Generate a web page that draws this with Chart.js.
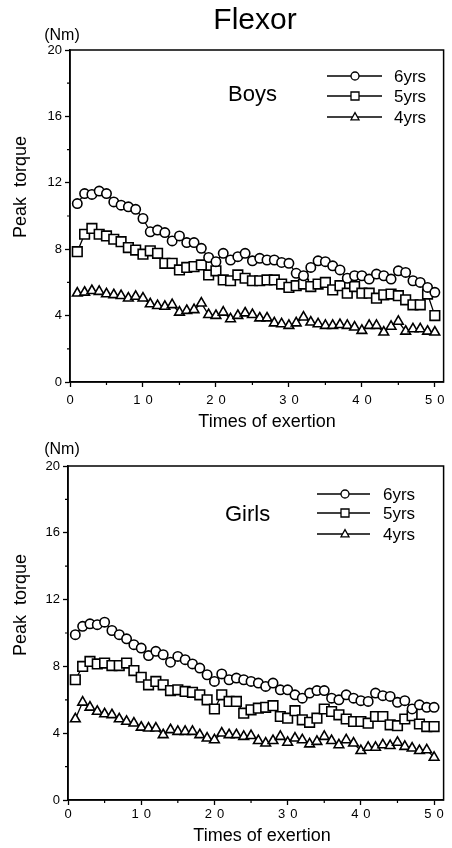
<!DOCTYPE html>
<html>
<head>
<meta charset="utf-8">
<script src="https://cdn.jsdelivr.net/npm/chart.js@4.4.1/dist/chart.umd.min.js"></script>
<style>
  body { margin: 0; background: #fff; }
  #wrap { position: relative; width: 452px; height: 848px; }
  canvas { position: absolute; left: 0; }
</style>
</head>
<body>
<div id="wrap">
  <canvas id="boysChart" width="452" height="430" style="top:0"></canvas>
  <canvas id="girlsChart" width="452" height="418" style="top:430px"></canvas>
</div>
<script>
'use strict';
// data
const times = [1,2,3,4,5,6,7,8,9,10,11,12,13,14,15,16,17,18,19,20,21,22,23,24,25,
  26,27,28,29,30,31,32,33,34,35,36,37,38,39,40,41,42,43,44,45,46,47,48,49,50];
const seriesLabels = ['6yrs', '5yrs', '4yrs'];

const boys6 = [10.75,11.35,11.3,11.5,11.35,10.85,10.65,10.55,10.4,9.85,
  9.05,9.15,9.0,8.5,8.8,8.4,8.4,8.05,7.5,7.25,
  7.75,7.35,7.55,7.75,7.3,7.45,7.35,7.35,7.2,7.15,
  6.55,6.4,6.9,7.3,7.25,7.0,6.75,6.25,6.4,6.4,
  6.2,6.5,6.4,6.2,6.7,6.6,6.1,6.0,5.7,5.4];
const boys5 = [7.85,8.9,9.25,8.9,8.8,8.6,8.45,8.1,7.95,7.7,
  7.9,7.75,7.15,7.15,6.75,6.9,6.95,7.05,6.45,6.7,
  6.15,6.1,6.45,6.25,6.1,6.1,6.15,6.15,5.9,5.7,
  5.8,5.9,5.75,5.9,6.0,5.55,5.8,5.35,5.75,5.35,
  5.35,5.05,5.25,5.3,5.2,4.95,4.65,4.65,5.3,4.0];
const boys4 = [5.35,5.4,5.5,5.45,5.3,5.25,5.2,5.05,5.15,5.05,
  4.7,4.6,4.55,4.65,4.2,4.3,4.35,4.75,4.05,4.0,
  4.2,3.8,4.0,4.15,4.05,3.85,3.85,3.55,3.5,3.4,
  3.55,3.9,3.6,3.5,3.4,3.4,3.45,3.4,3.3,3.1,
  3.4,3.4,3.0,3.35,3.65,3.05,3.2,3.2,3.05,3.0];

const girls6 = [9.9,10.4,10.55,10.5,10.65,10.15,9.9,9.65,9.3,9.1,
  8.65,8.9,8.7,8.25,8.6,8.4,8.15,7.9,7.5,7.1,
  7.55,7.2,7.3,7.2,7.1,7.0,6.8,7.0,6.6,6.6,
  6.3,6.1,6.4,6.55,6.55,6.1,6.0,6.3,6.1,5.95,
  5.9,6.4,6.25,6.2,5.85,5.95,5.45,5.7,5.55,5.55];
const girls5 = [7.2,8.0,8.3,8.15,8.2,8.05,8.05,8.2,7.75,7.35,
  6.9,7.1,6.9,6.55,6.6,6.5,6.45,6.3,6.0,5.45,
  6.3,5.9,5.9,5.2,5.4,5.5,5.55,5.65,5.0,4.9,
  5.35,4.8,4.65,4.9,5.45,5.3,5.1,4.85,4.7,4.7,
  4.6,5.0,5.0,4.5,4.45,4.85,5.05,4.55,4.4,4.4];
const girls4 = [4.85,5.85,5.55,5.3,5.15,5.1,4.85,4.7,4.6,4.35,
  4.3,4.3,3.9,4.2,4.1,4.1,4.1,3.9,3.7,3.6,
  4.0,3.9,3.9,3.8,3.85,3.55,3.4,3.55,3.8,3.45,
  3.7,3.6,3.35,3.5,3.8,3.55,3.3,3.6,3.4,2.95,
  3.15,3.15,3.3,3.25,3.45,3.2,3.1,2.95,3.0,2.55];

const yTicks = [0, 4, 8, 12, 16, 20];
const yMinor = [2, 6, 10, 14, 18];
const xTicks = [0, 10, 20, 30, 40, 50];
const xMinor = [5, 15, 25, 35, 45];

const FONT = '"Liberation Sans", Arial, sans-serif';
const pointStyles = ['circle', 'rect', 'triangle'];
const pointSizes = [4.7, 6.8, 5.6];

function toPoints(vals) {
  return vals.map((v, i) => ({ x: times[i], y: v }));
}

function drawMarker(ctx, style, x, y, r) {
  ctx.beginPath();
  if (style === 'circle') {
    ctx.arc(x, y, r, 0, Math.PI * 2);
  } else if (style === 'rect') {
    ctx.rect(x - r, y - r, 2 * r, 2 * r);
  } else {
    ctx.moveTo(x, y - r * 1.1);
    ctx.lineTo(x + r, y + r * 0.7);
    ctx.lineTo(x - r, y + r * 0.7);
    ctx.closePath();
  }
  ctx.fillStyle = '#fff';
  ctx.fill();
  ctx.stroke();
}

function decorPlugin(s) {
  return {
    id: 'decor',
    afterDraw(chart) {
      const ctx = chart.ctx;
      const a = chart.chartArea;
      const xs = chart.scales.x;
      const ys = chart.scales.y;
      ctx.save();
      ctx.strokeStyle = '#000';
      ctx.fillStyle = '#000';
      ctx.lineWidth = 1.5;
      ctx.strokeRect(a.left, a.top, a.right - a.left, a.bottom - a.top);

      // minor ticks
      ctx.lineWidth = 1.2;
      ctx.beginPath();
      yMinor.forEach(v => {
        const y = ys.getPixelForValue(v);
        ctx.moveTo(a.left - 3, y);
        ctx.lineTo(a.left, y);
      });
      xMinor.forEach(v => {
        const x = xs.getPixelForValue(v);
        ctx.moveTo(x, a.bottom);
        ctx.lineTo(x, a.bottom + 3);
      });
      ctx.stroke();

      // x tick labels, letter spaced like the original
      ctx.font = '13px ' + FONT;
      ctx.letterSpacing = '5px';
      ctx.textAlign = 'center';
      ctx.textBaseline = 'middle';
      xTicks.forEach(v => {
        ctx.fillText(String(v), xs.getPixelForValue(v) + 2.5, s.xLabelY);
      });
      ctx.letterSpacing = '0px';

      ctx.textBaseline = 'alphabetic';
      if (s.title) {
        ctx.font = '30px ' + FONT;
        ctx.fillText(s.title, 255, 29);
      }
      ctx.font = '18px ' + FONT;
      ctx.fillText('Times of exertion', s.xTitleX, s.xTitleY);
      ctx.font = '16px ' + FONT;
      ctx.fillText('(Nm)', 62, s.unitY);

      ctx.save();
      ctx.translate(26, s.yTitleY);
      ctx.rotate(-Math.PI / 2);
      ctx.font = '18px ' + FONT;
      ctx.fillText('Peak  torque', 0, 0);
      ctx.restore();

      // panel name
      ctx.textAlign = 'left';
      ctx.font = '22px ' + FONT;
      ctx.fillText(s.panel, s.panelX, s.panelY);

      // legend
      ctx.font = '17px ' + FONT;
      ctx.lineWidth = 1.3;
      for (let i = 0; i < seriesLabels.length; i++) {
        const y = s.legY[i];
        ctx.beginPath();
        ctx.moveTo(s.legX0, y);
        ctx.lineTo(s.legX1, y);
        ctx.stroke();
        drawMarker(ctx, pointStyles[i], s.legMark, y, 4);
        ctx.fillStyle = '#000';
        ctx.fillText(seriesLabels[i], s.legText, y + 5.5);
      }
      ctx.restore();
    }
  };
}

function makeChart(id, series, s) {
  const datasets = series.map((vals, i) => ({
    label: seriesLabels[i],
    data: toPoints(vals),
    borderColor: '#000',
    borderWidth: 1.3,
    pointStyle: pointStyles[i],
    pointRadius: pointSizes[i],
    pointBackgroundColor: '#fff',
    pointBorderColor: '#000',
    pointBorderWidth: 1.6,
    tension: 0,
    fill: false
  }));
  return new Chart(document.getElementById(id), {
    type: 'line',
    data: { datasets: datasets },
    options: {
      responsive: false,
      animation: false,
      devicePixelRatio: 1,
      layout: { padding: { left: 0, right: s.padRight, top: s.padTop, bottom: 0 } },
      plugins: { legend: { display: false }, tooltip: { enabled: false } },
      scales: {
        x: {
          type: 'linear',
          min: 0,
          max: s.xMax,
          afterBuildTicks: sc => { sc.ticks = xTicks.map(v => ({ value: v })); },
          afterFit: sc => { sc.height = s.xHeight; },
          ticks: { display: false },
          grid: { drawOnChartArea: false, tickLength: 5, tickColor: '#000', tickWidth: 1.3 },
          border: { color: '#000', width: 1.5 }
        },
        y: {
          min: 0,
          max: 20,
          afterBuildTicks: sc => { sc.ticks = yTicks.map(v => ({ value: v })); },
          afterFit: sc => { sc.width = s.yWidth; },
          ticks: { color: '#000', padding: 3, font: { family: FONT, size: 13 } },
          grid: { drawOnChartArea: false, tickLength: 5, tickColor: '#000', tickWidth: 1.3 },
          border: { color: '#000', width: 1.5 }
        }
      }
    },
    plugins: [decorPlugin(s)]
  });
}

makeChart('boysChart', [boys6, boys5, boys4], {
  title: 'Flexor',
  panel: 'Boys', panelX: 228, panelY: 101,
  padTop: 50, padRight: 5, yWidth: 70, xHeight: 48, xMax: 51.2,
  xLabelY: 400, xTitleX: 267, xTitleY: 427, unitY: 40, yTitleY: 187,
  legY: [76, 96, 117], legX0: 327, legX1: 382, legMark: 355, legText: 394
});

makeChart('girlsChart', [girls6, girls5, girls4], {
  title: null,
  panel: 'Girls', panelX: 225, panelY: 91,
  padTop: 36, padRight: 7, yWidth: 68, xHeight: 48, xMax: 51.3,
  xLabelY: 384, xTitleX: 262, xTitleY: 411, unitY: 24, yTitleY: 175,
  legY: [64, 83, 104], legX0: 317, legX1: 370, legMark: 345, legText: 383
});
</script>
</body>
</html>
